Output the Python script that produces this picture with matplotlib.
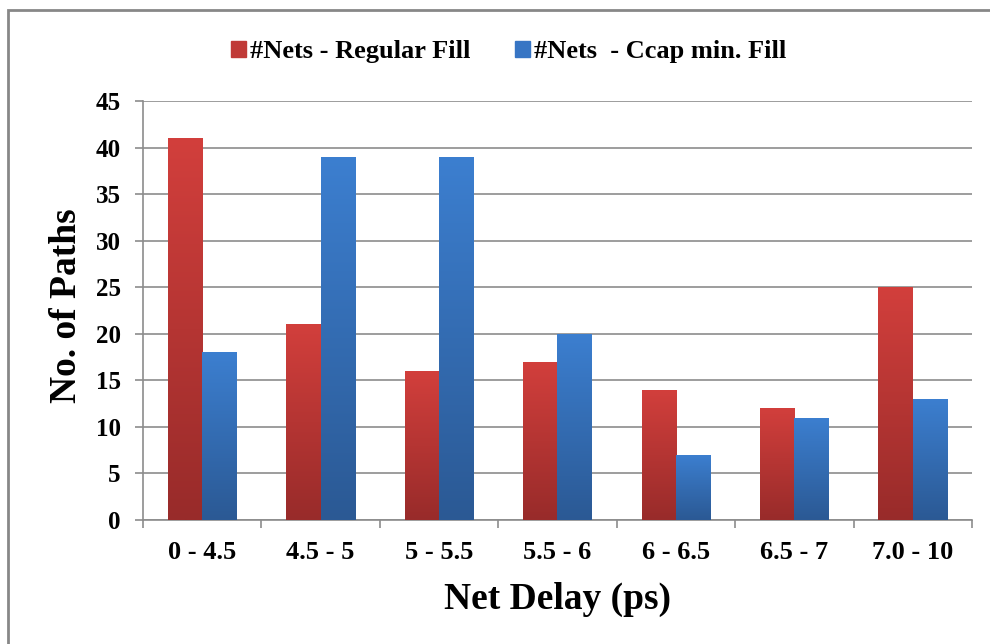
"""Net delay histogram: regular fill vs Ccap min. fill."""
import numpy as np
from matplotlib import pyplot as plt
from matplotlib.colors import LinearSegmentedColormap
from matplotlib.patches import Rectangle, Patch

categories = ['0 - 4.5', '4.5 - 5', '5 - 5.5', '5.5 - 6', '6 - 6.5', '6.5 - 7', '7.0 - 10']
regular_fill = [41, 21, 16, 17, 14, 12, 25]
ccap_fill = [18, 39, 39, 20, 7, 11, 13]
series_labels = ['#Nets - Regular Fill', '#Nets  - Ccap min. Fill']


def gradient_bars(ax, bars, top_color, bottom_color):
    """Paint each bar with a vertical gradient (lighter at top)."""
    cmap = LinearSegmentedColormap.from_list('g', [bottom_color, top_color])
    grad = np.linspace(0, 1, 256).reshape(-1, 1)
    for b in bars:
        x0, y0 = b.get_x(), b.get_y()
        w, h = b.get_width(), b.get_height()
        im = ax.imshow(grad, extent=(x0, x0 + w, y0, y0 + h), origin='lower',
                       cmap=cmap, aspect='auto', zorder=3)
        im.set_clip_path(b)
        b.set_facecolor('none')


def main():
    plt.rcParams['font.family'] = ['Liberation Serif', 'DejaVu Serif']
    plt.rcParams['font.weight'] = 'bold'

    fig = plt.figure(figsize=(9.9, 6.44), dpi=100)
    ax = fig.add_axes([143 / 990, 1 - 520 / 644, (972 - 143) / 990, (520 - 101) / 644])

    # outer chart border (only top and left are visible in the picture)
    fig.patches.append(Rectangle((8 / 990, -0.1), 1.2, 1 - 10 / 644 + 0.1,
                                 transform=fig.transFigure, fill=False,
                                 edgecolor='#878787', linewidth=2))

    x = np.arange(len(categories))
    w = 0.29
    b1 = ax.bar(x - w / 2, regular_fill, w, edgecolor='none', zorder=3)
    b2 = ax.bar(x + w / 2, ccap_fill, w, edgecolor='none', zorder=3)
    gradient_bars(ax, b1, '#D23F3C', '#982B2A')
    gradient_bars(ax, b2, '#3C7FD0', '#2B5994')

    ax.set_xlim(-0.5, len(categories) - 0.5)
    ax.set_ylim(0, 45)
    ax.set_yticks(range(0, 46, 5))
    ax.yaxis.grid(True, color='#8c8c8c', linewidth=1.2)
    ax.set_axisbelow(True)

    ax.set_xticks(x)
    ax.set_xticklabels(categories, fontsize=19, fontweight='bold')
    ax.set_xticks(np.arange(-0.5, len(categories)), minor=True)
    ax.tick_params(axis='x', which='major', length=0, pad=15)
    ax.tick_params(axis='x', which='minor', length=6, color='#8c8c8c', width=1.2)
    ax.tick_params(axis='y', length=6, color='#8c8c8c', width=1.2, labelsize=18, pad=10)
    for lab in ax.get_yticklabels():
        lab.set_fontweight('bold')

    for s in ['top', 'right']:
        ax.spines[s].set_visible(False)
    for s in ['left', 'bottom']:
        ax.spines[s].set_color('#8c8c8c')
        ax.spines[s].set_linewidth(1.2)

    ax.set_ylabel('No. of Paths', fontsize=27, fontweight='bold')
    ax.yaxis.set_label_coords(-0.071, 0.512)
    ax.set_xlabel('Net Delay (ps)', fontsize=27, fontweight='bold')
    ax.xaxis.set_label_coords(0.5, -0.148)

    handles = [Patch(color='#C03A37'), Patch(color='#3775C4')]
    ax.legend(handles, series_labels, loc='center', bbox_to_anchor=(0.441, 1.117),
              ncol=2, frameon=False, handlelength=0.57, handleheight=0.57,
              handletextpad=0.15, columnspacing=1.7, prop={'weight': 'bold', 'size': 19})

    plt.savefig('out.png', dpi=100)


if __name__ == '__main__':
    main()
